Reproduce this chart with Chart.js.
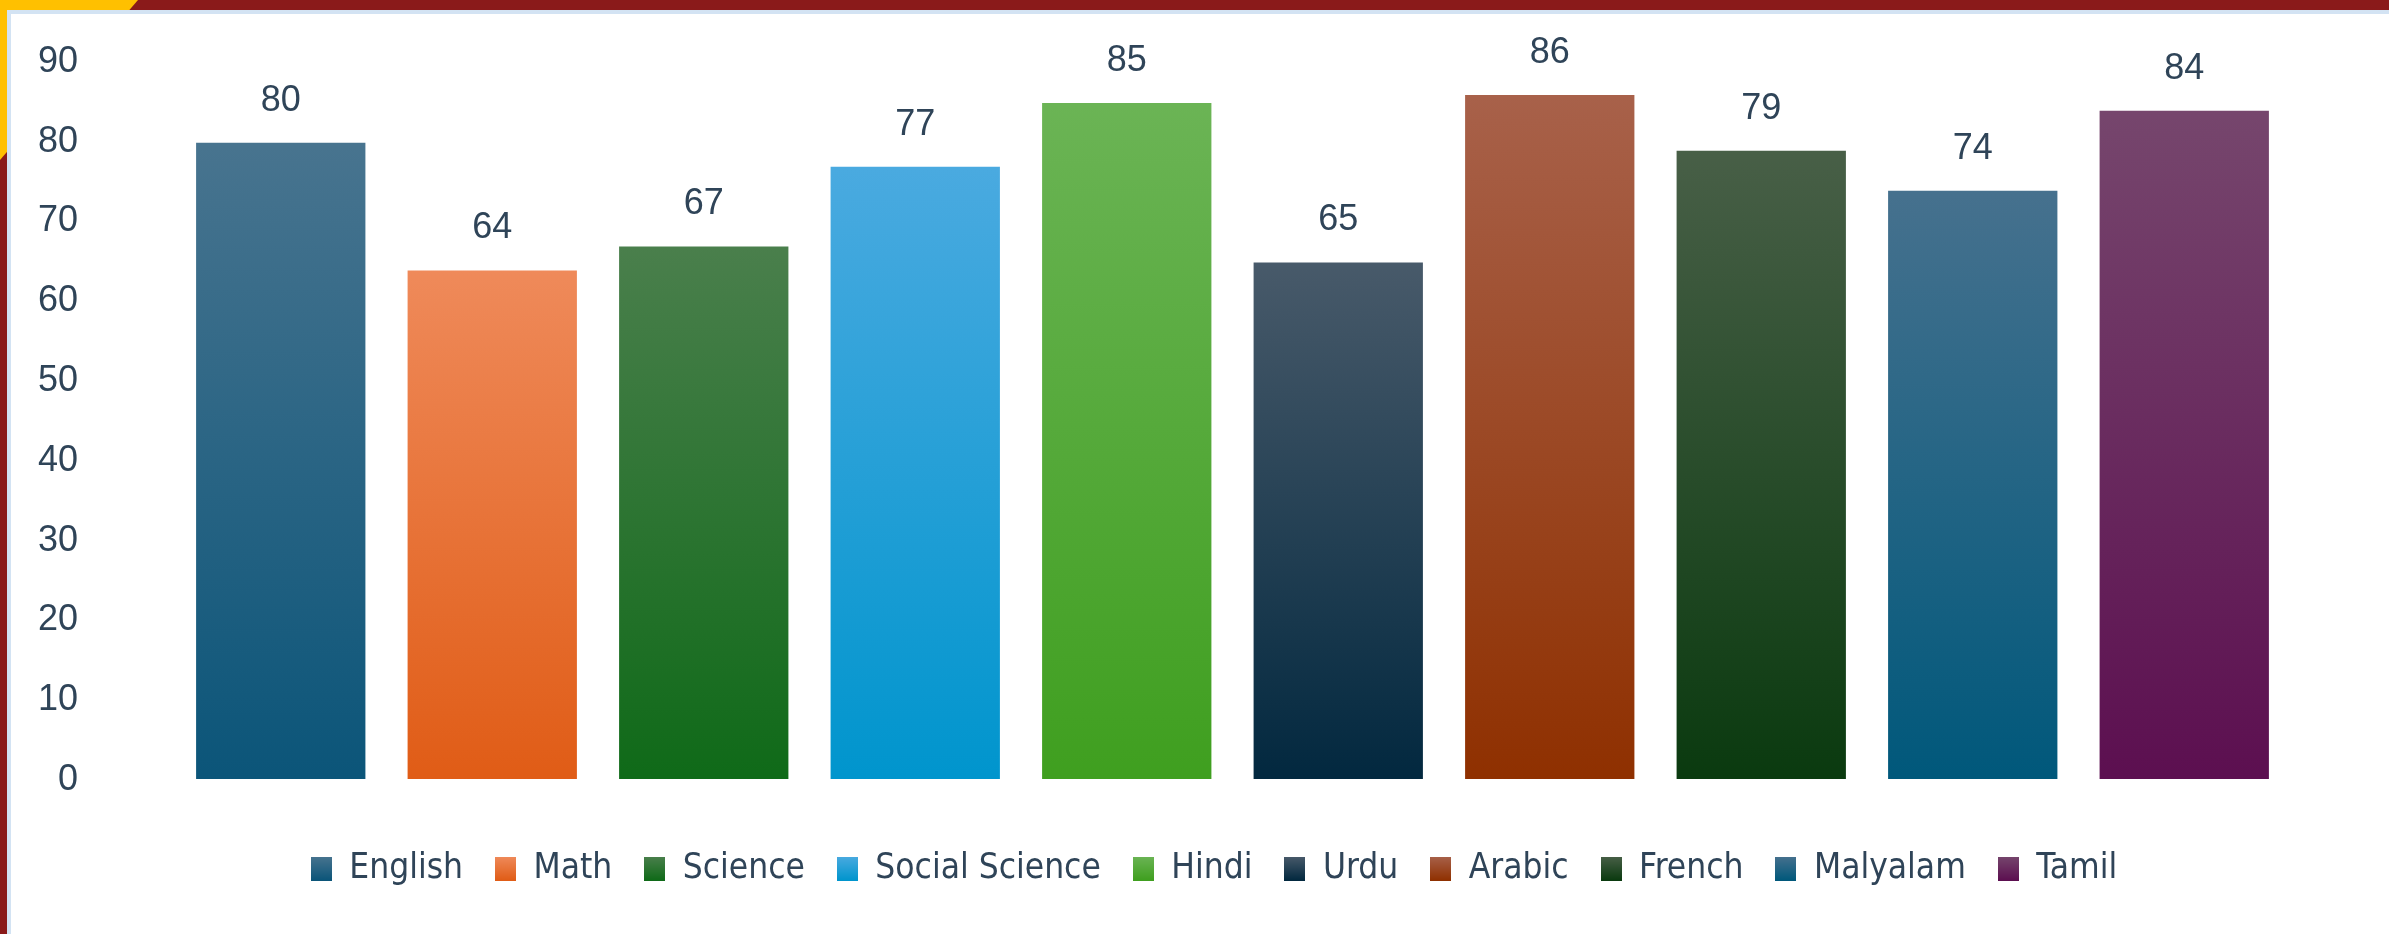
<!DOCTYPE html>
<html>
<head>
<meta charset="utf-8">
<script src="https://cdn.jsdelivr.net/npm/chart.js@4.4.1/dist/chart.umd.min.js"></script>
<style>
  html, body { margin: 0; padding: 0; }
  body {
    width: 2389px;
    height: 934px;
    position: relative;
    overflow: hidden;
    background: #8a1a1a;
  }
  #corner {
    position: absolute;
    left: 0;
    top: 0;
    width: 138px;
    height: 160px;
    background: #ffc000;
    clip-path: polygon(0 0, 100% 0, 0 100%);
  }
  #panel {
    position: absolute;
    left: 7px;
    top: 10px;
    right: -10px;
    bottom: -10px;
    background: #fff;
    border: 4px solid #d3e3f3;
  }
  #chart {
    position: absolute;
    left: 11px;
    top: 14px;
  }
</style>
</head>
<body>
<div id="corner"></div>
<div id="panel"></div>
<canvas id="chart" width="2378" height="920"></canvas>
<script>
  const subjects = ['English', 'Math', 'Science', 'Social Science', 'Hindi', 'Urdu', 'Arabic', 'French', 'Malyalam', 'Tamil'];
  const scores = [80, 64, 67, 77, 85, 65, 86, 79, 74, 84];
  const yTicks = [0, 10, 20, 30, 40, 50, 60, 70, 80, 90];

  // vertical gradient per bar: lighter at the top, deeper at the base
  const topColors = ['#48748f', '#ef8a5a', '#4a7f4c', '#4aaae0', '#6bb455', '#485a6a', '#a8614a', '#485f47', '#46718e', '#76466d'];
  const bottomColors = ['#0b5579', '#e05c16', '#0f6a18', '#0095cd', '#3f9f1f', '#02283f', '#8f3000', '#0a3a0f', '#00587b', '#5c0f50'];

  const textColor = '#2f4458';

  function swatch(top, bottom) {
    const c = document.createElement('canvas');
    c.width = 21;
    c.height = 24;
    const g = c.getContext('2d');
    const grad = g.createLinearGradient(0, 0, 0, 24);
    grad.addColorStop(0, top);
    grad.addColorStop(1, bottom);
    g.fillStyle = grad;
    g.fillRect(0, 0, 21, 24);
    return c;
  }

  const swatches = subjects.map((s, i) => swatch(topColors[i], bottomColors[i]));

  function barFill(context) {
    const chart = context.chart;
    const i = context.dataIndex;
    if (!chart.chartArea || i === undefined) return bottomColors[i] || '#888';
    const y = chart.scales.y;
    const top = y.getPixelForValue(scores[i]);
    const base = y.getPixelForValue(0);
    const grad = chart.ctx.createLinearGradient(0, top, 0, base);
    grad.addColorStop(0, topColors[i]);
    grad.addColorStop(1, bottomColors[i]);
    return grad;
  }

  const valueLabels = {
    id: 'valueLabels',
    afterDatasetsDraw(chart) {
      const { ctx } = chart;
      const meta = chart.getDatasetMeta(0);
      ctx.save();
      ctx.font = '36px "Liberation Sans", Arial, sans-serif';
      ctx.fillStyle = textColor;
      ctx.textAlign = 'center';
      ctx.textBaseline = 'middle';
      meta.data.forEach((bar, i) => {
        ctx.fillText(String(scores[i]), bar.x, bar.y - 41);
      });
      ctx.restore();
    },
  };

  new Chart(document.getElementById('chart'), {
    type: 'bar',
    data: {
      labels: subjects,
      datasets: [{
        data: scores,
        backgroundColor: barFill,
        borderColor: 'rgba(255,255,255,0.45)',
        borderWidth: 1,
        borderSkipped: false,
        categoryPercentage: 1,
        barPercentage: 0.81,
      }],
    },
    options: {
      responsive: false,
      animation: false,
      devicePixelRatio: 1,
      layout: {
        padding: { left: 127, right: 99, top: 48, bottom: 38 },
      },
      scales: {
        x: {
          grid: { display: false, drawTicks: false },
          border: { display: false },
          ticks: { display: false },
          afterFit(scale) { scale.height = 39; },
        },
        y: {
          min: yTicks[0],
          max: yTicks[yTicks.length - 1],
          grid: { display: false, drawTicks: false },
          border: { display: false },
          ticks: {
            stepSize: 10,
            mirror: true,
            crossAlign: 'far',
            padding: -137,
            color: textColor,
            font: { family: '"Liberation Sans", Arial, sans-serif', size: 36 },
          },
          afterFit(scale) { scale.width = 37; },
        },
      },
      plugins: {
        tooltip: { enabled: false },
        legend: {
          position: 'bottom',
          labels: {
            usePointStyle: true,
            pointStyleWidth: 21,
            boxHeight: 24,
            padding: 32,
            color: textColor,
            font: { family: '"Liberation Sans Narrow", "DejaVu Sans Condensed", sans-serif', size: 35 },
            generateLabels() {
              return subjects.map((s, i) => ({
                text: s,
                pointStyle: swatches[i],
                fillStyle: bottomColors[i],
                strokeStyle: bottomColors[i],
                lineWidth: 0,
                hidden: false,
                index: i,
                fontColor: textColor,
              }));
            },
          },
        },
      },
    },
    plugins: [valueLabels],
  });
</script>
</body>
</html>
